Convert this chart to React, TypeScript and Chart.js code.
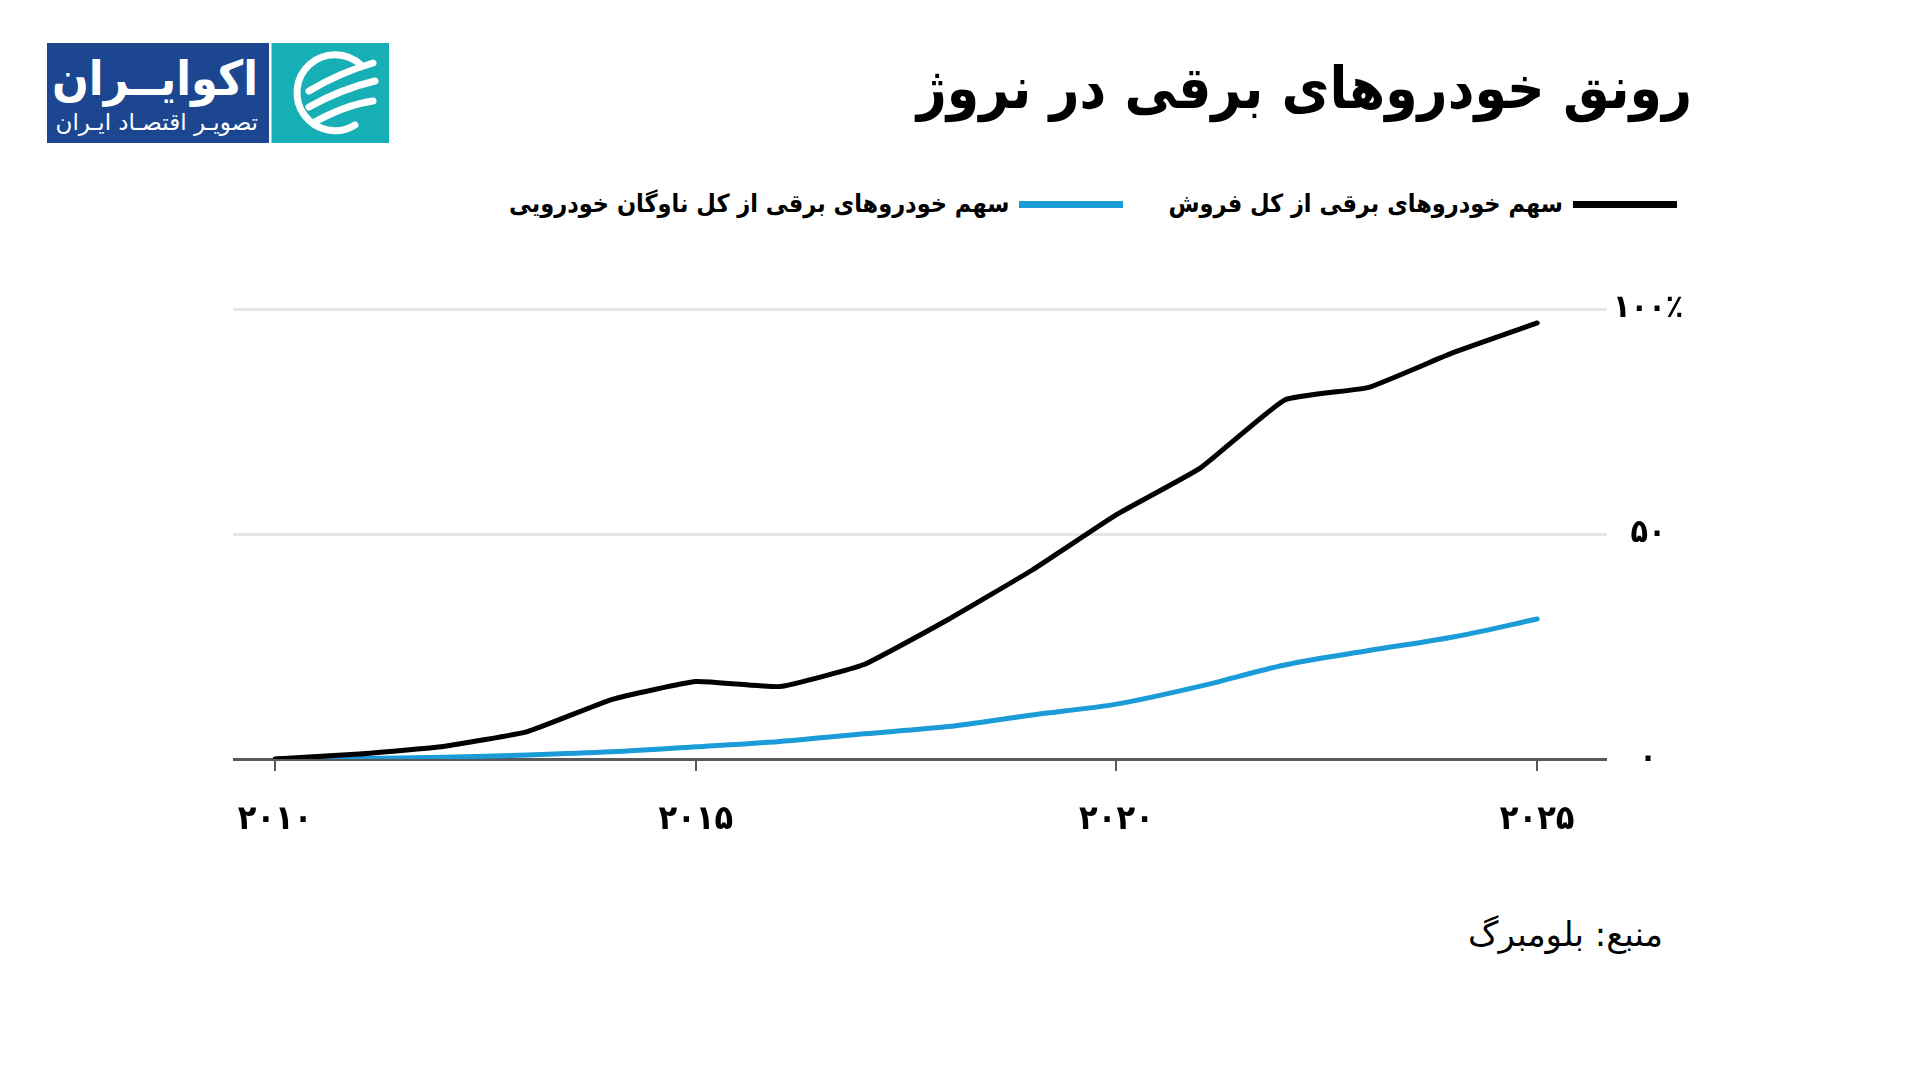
import React, { useEffect, useRef } from "react";
import { Chart, registerables } from "chart.js";

Chart.register(...registerables);

// ---- data ----
const years = [2010, 2011, 2012, 2013, 2014, 2015, 2016, 2017, 2018, 2019, 2020, 2021, 2022, 2023, 2024, 2025];
const salesShare = [0, 1.1, 2.8, 6.1, 13.2, 17.2, 16.1, 21, 31, 42, 54.3, 64.7, 79.8, 82.6, 90.3, 96.9];
const fleetShare = [0, 0.1, 0.4, 0.9, 1.6, 2.7, 3.9, 5.6, 7.2, 9.8, 12.2, 16.2, 20.9, 24.1, 27.1, 31.1];
const xTickValues = [2010, 2015, 2020, 2025];
const xTickLabels = ["۲۰۱۰", "۲۰۱۵", "۲۰۲۰", "۲۰۲۵"];
const yTickValues = [0, 50, 100];
const yTickLabels = ["۰", "۵۰", "۱۰۰٪"];
const seriesNames = ["سهم خودروهای برقی از کل فروش", "سهم خودروهای برقی از کل ناوگان خودرویی"];
const seriesColors = ["#000000", "#1b9bd7"];
const titleText = "رونق خودروهای برقی در نروژ";
const sourceText = "منبع: بلومبرگ";
const logoTitle = "اکوایــران";
const logoSubtitle = "تصویـر اقتصـاد ایـران";

const FA = "'DejaVu Sans', sans-serif";
const FA_COND = "'DejaVu Sans Condensed', 'DejaVu Sans', sans-serif";

function ChartCanvas() {
  const ref = useRef<HTMLCanvasElement | null>(null);
  useEffect(() => {
    if (!ref.current) return;
    const chart = new Chart(ref.current, {
      type: "line",
      data: {
        datasets: [
          {
            label: seriesNames[0],
            data: years.map((y, i) => ({ x: y, y: salesShare[i] })),
            borderColor: seriesColors[0],
            borderWidth: 5,
            pointRadius: 0,
            tension: 0.12,
            fill: false,
            borderCapStyle: "round",
            borderJoinStyle: "round",
          },
          {
            label: seriesNames[1],
            data: years.map((y, i) => ({ x: y, y: fleetShare[i] })),
            borderColor: seriesColors[1],
            borderWidth: 5,
            pointRadius: 0,
            tension: 0.3,
            fill: false,
            borderCapStyle: "round",
            borderJoinStyle: "round",
          },
        ],
      },
      options: {
        animation: false,
        responsive: false,
        maintainAspectRatio: false,
        layout: { padding: { left: 233, right: 33, top: 59, bottom: 11 } },
        plugins: { legend: { display: false }, tooltip: { enabled: false } },
        scales: {
          x: {
            type: "linear",
            min: 2009.5,
            max: 2025.83,
            afterBuildTicks: (s: any) => {
              s.ticks = xTickValues.map((v) => ({ value: v }));
            },
            afterFit: (s: any) => {
              s.height = 100;
            },
            ticks: {
              autoSkip: false,
              maxRotation: 0,
              padding: 29,
              color: "#000",
              font: { family: FA_COND, size: 34, weight: "bold" },
              callback: (v: any) => {
                const i = xTickValues.indexOf(Number(v));
                return i >= 0 ? xTickLabels[i] : "";
              },
            },
            grid: {
              drawOnChartArea: false,
              drawTicks: true,
              tickLength: 12,
              color: "#58595b",
              lineWidth: 2,
            },
            border: { display: false },
          },
          y: {
            position: "right",
            min: 0,
            max: 100,
            afterBuildTicks: (s: any) => {
              s.ticks = yTickValues.map((v) => ({ value: v }));
            },
            afterFit: (s: any) => {
              s.width = 80;
            },
            ticks: {
              padding: 6,
              crossAlign: "center",
              color: "#000",
              font: { family: FA_COND, size: 32, weight: "bold" },
              callback: (v: any) => {
                const i = yTickValues.indexOf(Number(v));
                return i >= 0 ? yTickLabels[i] : "";
              },
            },
            grid: {
              drawTicks: false,
              lineWidth: 3,
              color: (ctx: any) => (ctx.tick && ctx.tick.value === 0 ? "#58595b" : "#e6e6e6"),
            },
            border: { display: false },
          },
        },
      },
    } as any);
    return () => chart.destroy();
  }, []);
  return (
    <canvas
      ref={ref}
      width={1720}
      height={620}
      style={{ position: "absolute", left: 0, top: 250, width: 1720, height: 620 }}
    />
  );
}

function Logo() {
  return (
    <svg
      width={342}
      height={100}
      style={{ position: "absolute", left: 47, top: 43 }}
      viewBox="0 0 342 100"
    >
      <rect x={0} y={0} width={222} height={100} fill="#1c4690" />
      <rect x={223} y={0} width={1.5} height={100} fill="#ffffff" />
      <rect x={224.5} y={0} width={117.5} height={100} fill="#16afb5" />
      <text
        x={211}
        y={52}
        fill="#fff"
        fontFamily={FA_COND}
        fontWeight="bold"
        fontSize={48}
        textAnchor="start"
        direction="rtl"
        style={{ direction: "rtl" } as any}
      >
        {logoTitle}
      </text>
      <text
        x={211}
        y={87}
        fill="#fff"
        fontFamily={FA}
        fontSize={23}
        textAnchor="start"
        direction="rtl"
        style={{ direction: "rtl" } as any}
      >
        {logoSubtitle}
      </text>
      <g fill="none" stroke="#fff" strokeLinecap="round">
        <path d="M 314 22 A 38 38 0 1 0 308 82" strokeWidth={7} />
        <path d="M 262 48 Q 292 30 326 20" strokeWidth={7} />
        <path d="M 262 64 Q 294 46 328 38" strokeWidth={7} />
        <path d="M 266 80 Q 298 62 326 58" strokeWidth={7} />
      </g>
    </svg>
  );
}

function Legend() {
  const item = (color: string, label: string, marginLeft: number) => (
    <div style={{ display: "flex", alignItems: "center", marginLeft }}>
      <div style={{ width: 104, height: 7, background: color }} />
      <div style={{ marginRight: 10, fontFamily: FA_COND, fontSize: 25, fontWeight: "bold", color: "#000" }}>{label}</div>
    </div>
  );
  return (
    <div
      style={{
        position: "absolute",
        right: 243,
        top: 186,
        display: "flex",
        direction: "rtl",
        alignItems: "center",
        whiteSpace: "nowrap",
        lineHeight: "36px",
      }}
    >
      {item(seriesColors[0], seriesNames[0], 45)}
      {item(seriesColors[1], seriesNames[1], 0)}
    </div>
  );
}

export default function App() {
  return (
    <div style={{ position: "absolute", left: 0, top: 0, width: 1920, height: 1080, background: "#fff", overflow: "hidden" }}>
      <Logo />
      <div
        style={{
          position: "absolute",
          right: 228,
          top: 50,
          direction: "rtl",
          fontFamily: FA_COND,
          fontWeight: "bold",
          fontSize: 58,
          lineHeight: "76px",
          color: "#000",
          whiteSpace: "nowrap",
        }}
      >
        {titleText}
      </div>
      <Legend />
      <ChartCanvas />
      <div
        style={{
          position: "absolute",
          right: 257,
          top: 912,
          direction: "rtl",
          fontFamily: FA,
          fontSize: 34,
          lineHeight: "44px",
          color: "#000",
          whiteSpace: "nowrap",
        }}
      >
        {sourceText}
      </div>
    </div>
  );
}
